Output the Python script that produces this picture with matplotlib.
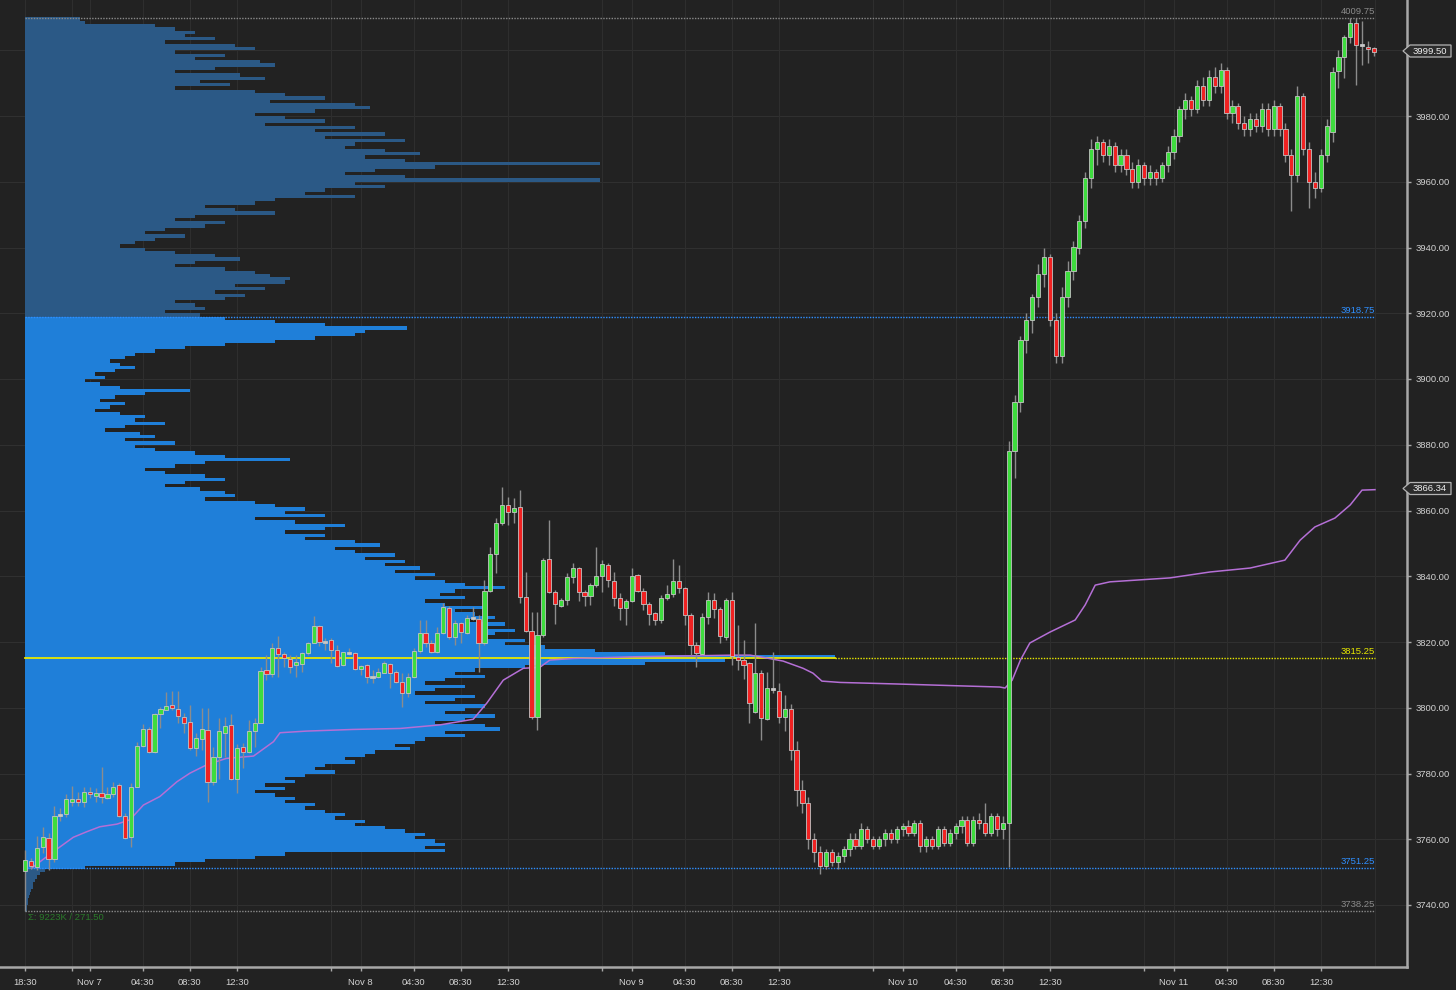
import numpy as np
import matplotlib
matplotlib.use("Agg")
import matplotlib.pyplot as plt
from matplotlib.patches import Rectangle, Polygon

# ---------------- data ----------------
opens = [3750.4,3753.5,3751.7,3757.6,3760.5,3754.0,3767.3,3767.6,3771.4,3772.2,
         3771.4,3774.5,3773.3,3774.2,3772.5,3773.8,3776.4,3767.0,3760.8,3776.0,
         3788.4,3793.5,3786.6,3798.0,3799.4,3800.7,3799.7,3797.3,3795.8,3787.7,
         3790.4,3793.2,3777.5,3785.1,3792.4,3794.7,3778.4,3788.2,3786.5,3793.0,
         3795.5,3811.4,3810.3,3818.3,3816.4,3814.8,3813.0,3813.2,3816.6,3819.8,
         3824.9,3820.1,3820.6,3817.6,3813.1,3816.6,3816.6,3811.9,3813.0,3809.4,
         3809.4,3810.7,3813.3,3811.0,3807.7,3804.4,3809.3,3817.4,3822.8,3819.8,
         3817.1,3822.6,3830.2,3821.6,3825.7,3822.8,3827.4,3826.9,3819.8,3835.6,
         3846.8,3856.1,3861.7,3859.5,3861.0,3833.6,3823.4,3797.3,3822.1,3845.1,
         3835.3,3831.0,3832.7,3839.9,3842.4,3835.1,3834.0,3837.3,3840.1,3843.4,
         3838.6,3833.3,3830.4,3832.6,3840.4,3835.6,3831.5,3828.7,3826.7,3833.3,
         3834.6,3838.6,3836.3,3828.2,3819.1,3816.4,3827.5,3832.8,3830.0,3821.6,
         3832.8,3815.5,3814.5,3813.7,3798.8,3810.7,3796.5,3805.6,3805.2,3797.1,
         3799.5,3787,3775,3771,3760,3756,3752,3756,3753,3755,
         3757,3760,3758,3763,3760,3758,3760,3762,3760,3763,
         3764,3762,3765,3758,3760,3758,3763,3759,3762,3764,
         3766,3759,3766,3765,3762,3767,3763,3765,3878,3893,
         3912,3918,3925,3932,3937,3918,3907,3925,3933,3940,
         3948,3961,3970,3972,3968,3971,3965,3968,3964,3960,
         3965,3961,3963,3961,3965,3969,3974,3982,3985,3982,
         3989,3985,3992,3989,3994,3981,3983,3978,3976,3979,
         3977,3982,3976,3983,3976,3968,3962,3986,3970,3960,
         3958,3968,3975,3993.8,3997.9,4003.9,4008.4,4001.6,4001.1,4000.6]
highs = [3756.7,3754.4,3761.0,3763.8,3761.9,3770.1,3769.5,3773.7,3776.1,3774.5,
         3776.0,3776.0,3775.5,3782.1,3776.0,3777.5,3777.2,3767.9,3777.0,3789.7,
         3795.1,3794.2,3798.3,3800.1,3804.9,3805.2,3805.2,3798.3,3800.8,3792.2,
         3799.8,3799.8,3788.2,3796.8,3797.3,3798.0,3788.9,3789.2,3796.3,3796.8,
         3812.5,3816.0,3819.6,3821.8,3817.1,3816.0,3816.0,3817.1,3820.1,3827.9,
         3825.2,3821.1,3821.1,3819.1,3817.1,3818.1,3817.1,3813.0,3813.2,3811.5,
         3812.0,3814.2,3813.5,3811.5,3810.5,3810.5,3818.1,3826.7,3826.7,3820.6,
         3824.7,3831.8,3831.0,3826.7,3826.2,3828.2,3830.7,3828.2,3838.9,3849.0,
         3857.6,3867.2,3864.2,3863.7,3866.2,3841.4,3829.2,3829.2,3845.5,3857.1,
         3835.8,3833.3,3840.9,3843.9,3842.9,3835.8,3837.9,3848.8,3844.9,3843.9,
         3841.4,3834.8,3833.0,3842.4,3840.7,3836.3,3832.3,3829.2,3834.3,3837.3,
         3845.2,3843.4,3836.8,3828.7,3820.1,3828.7,3835.3,3835.0,3830.7,3833.3,
         3835.3,3825.2,3820.6,3814.0,3825.9,3811.5,3811.0,3817.1,3807.4,3803.9,
         3801,3790,3778,3773,3762,3758,3757,3757,3756,3758,
         3762,3762,3765,3764,3761,3761,3763,3763,3764,3765,
         3766,3766,3766,3761,3761,3764,3764,3763,3765,3767,
         3767,3767,3768,3771,3768,3768,3767,3881,3895,3913,
         3920,3926,3935,3940,3938,3920,3928,3936,3942,3950,
         3963,3973,3974,3973,3973,3972,3970,3970,3966,3967,
         3966,3965,3964,3966,3971,3976,3983,3987,3986,3991,
         3992,3994,3995,3996,3995,3985,3984,3980,3981,3981,
         3984,3984,3985,3984,3978,3970,3989,3987,3972,3963,
         3970,3979,3995,4000.1,4004.6,4009.75,4009.75,4008.8,4002.9,4001.0]
lows = [3738.25,3750.9,3750.7,3755.7,3750.7,3753.0,3765.4,3766.9,3770.0,3770.0,
        3769.8,3772.5,3771.4,3771.1,3772.2,3773.0,3766.9,3760.0,3757.7,3776.0,
        3788.2,3786.3,3786.3,3793.8,3799.3,3799.3,3795.5,3792.2,3787.2,3785.3,
        3787.2,3771.4,3776.5,3778.2,3785.1,3778.0,3774.2,3781.6,3786.1,3788.2,
        3795.3,3808.4,3809.4,3809.4,3812.5,3810.7,3809.4,3811.0,3816.0,3819.6,
        3818.8,3817.6,3813.5,3812.4,3812.7,3816.0,3811.5,3810.0,3807.4,3807.4,
        3808.9,3810.5,3805.9,3807.4,3800.3,3803.2,3808.9,3816.6,3818.6,3816.6,
        3816.6,3822.4,3820.8,3819.1,3819.6,3822.4,3826.7,3811.0,3819.1,3835.3,
        3840.9,3855.6,3855.6,3856.1,3831.8,3823.1,3796.5,3793.2,3821.6,3834.8,
        3825.5,3830.7,3831.3,3837.9,3832.6,3831.0,3831.3,3836.8,3835.3,3836.6,
        3831.0,3826.7,3825.2,3832.3,3835.3,3829.7,3825.2,3825.2,3825.7,3832.8,
        3833.8,3834.8,3825.2,3816.0,3812.3,3816.0,3825.5,3827.2,3819.6,3820.6,
        3813.0,3811.5,3808.7,3795.3,3798.3,3790.2,3796.3,3804.4,3795.3,3793.0,
        3784,3770,3768,3757,3753,3749.5,3751,3752,3751,3753,
        3755,3757,3757,3759,3757,3757,3758,3759,3759,3761,
        3761,3761,3756,3756,3757,3757,3758,3758,3760,3762,
        3758,3758,3763,3761,3761,3761,3760,3751.5,3870,3890,
        3908,3914,3922,3928,3916,3905,3905,3922,3930,3938,
        3946,3958,3965,3966,3965,3963,3963,3962,3958,3958,
        3959,3959,3959,3960,3963,3967,3972,3979,3980,3981,
        3983,3983,3987,3987,3979,3978,3976,3974,3974,3975,
        3975,3974,3974,3974,3966,3951,3960,3968,3952,3955,
        3957,3966,3972,3988.4,3991.5,4002.1,3989.4,3995.5,3996.0,3998.4]
closes = [3753.7,3751.9,3757.4,3760.8,3754.0,3767.0,3767.3,3772.3,3772.2,3771.4,
          3774.5,3773.7,3774.2,3772.8,3773.8,3776.0,3767.0,3760.5,3776.0,3788.4,
          3793.5,3786.5,3798.0,3799.7,3800.5,3799.8,3797.5,3795.3,3787.7,3790.7,
          3793.4,3777.5,3785.1,3792.9,3794.4,3778.4,3787.8,3786.5,3793.0,3795.5,
          3811.1,3810.3,3818.3,3816.3,3815.0,3812.5,3813.8,3816.6,3819.8,3824.9,
          3819.9,3820.1,3817.6,3812.7,3816.9,3816.6,3811.8,3812.8,3809.4,3809.4,
          3811.0,3813.7,3810.7,3807.7,3804.4,3809.3,3817.4,3822.8,3819.8,3817.1,
          3822.6,3830.5,3821.6,3825.7,3823.0,3827.4,3827.4,3819.8,3835.6,3846.8,
          3856.1,3861.7,3859.6,3860.7,3833.8,3823.4,3797.1,3822.1,3844.9,3835.3,
          3831.6,3832.7,3839.9,3842.4,3835.3,3834.0,3837.3,3840.1,3843.7,3838.9,
          3833.3,3830.3,3832.6,3840.1,3835.5,3831.5,3828.5,3826.7,3833.3,3834.6,
          3838.6,3836.3,3828.2,3819.1,3816.6,3827.5,3832.8,3830.0,3821.8,3832.8,
          3815.7,3814.5,3813.0,3801.5,3810.7,3796.8,3805.9,3805.6,3797.1,3799.5,
          3787,3775,3771,3760,3756,3752,3756,3753,3755,3757,
          3760,3758,3763,3760,3758,3760,3762,3760,3763,3764,
          3762,3765,3758,3760,3758,3763,3759,3762,3764,3766,
          3759,3766,3765,3762,3767,3763,3765,3878,3893,3912,
          3918,3925,3932,3937,3918,3907,3925,3933,3940,3948,
          3961,3970,3972,3968,3971,3965,3968,3964,3960,3965,
          3961,3963,3961,3965,3969,3974,3982,3985,3982,3989,
          3985,3992,3989,3994,3981,3983,3978,3976,3979,3977,
          3982,3976,3983,3976,3968,3962,3986,3970,3960,3958,
          3968,3977,3993.5,3997.9,4003.9,4008.4,4001.6,4001.6,4000.4,3999.5]

# VWAP vertices (bar index, price)
vwap_bar = [1.1,4.8,8.2,10.5,12.7,15.6,17.8,20.1,22.9,25.8,28,30.8,34.2,38.8,42.2,43.3,
            47.8,55.7,63.7,70.5,76.1,78.4,81.2,84.6,87.4,89.1,93.1,103.3,120.3,123.1,124.8,
            128.7,132.1,133.8,135.3,138.4,148.6,165.5,166.4,167.6,169,170.6,174,178.3,180,
            181.7,184.2,194.4,201.2,208,213.9,216.5,219,222.4,225,227,229.2]
vwap_val = [3751.2,3756.2,3760.6,3762.3,3763.8,3764.6,3765.9,3770.4,3773.0,3777.5,3780.1,
            3782.6,3784.6,3785.3,3789.7,3792.4,3792.9,3793.4,3793.7,3794.8,3796.5,3801.4,
            3808.4,3812.0,3812.3,3814.5,3815.0,3815.5,3816.0,3816.0,3815.5,3814.2,3812.0,
            3810.5,3808.1,3807.7,3807.2,3806.3,3806.0,3808.4,3814.5,3819.7,3823.0,3826.7,
            3831.3,3837.3,3838.3,3839.5,3841.3,3842.5,3844.9,3851.0,3855.0,3857.7,3861.7,
            3866.2,3866.34]

# volume profile: 1-point price bins (bottom edge, 4009 down to 3738) and relative volume
prof_price = list(range(4009, 3737, -1))
prof_vol = [55,60,130,150,170,160,190,140,210,230,
            150,200,170,235,250,190,150,215,240,175,
            205,150,230,260,300,245,330,345,290,230,
            260,300,240,330,290,360,300,380,330,320,
            360,395,340,380,575,410,350,320,380,575,
            330,360,300,280,330,250,230,180,210,250,
            170,150,200,180,140,120,160,130,110,95,
            120,150,190,215,170,150,200,230,245,265,
            260,210,240,190,220,200,150,170,180,140,
            175,200,250,300,382,340,330,290,250,200,
            160,130,110,100,85,95,110,90,70,80,
            60,75,95,165,120,90,75,100,85,70,
            95,120,110,140,100,80,115,130,100,150,
            110,130,170,200,265,180,150,120,140,180,
            200,160,140,175,200,210,180,230,250,280,
            260,300,230,270,320,300,260,300,280,330,
            355,310,330,370,340,380,360,395,370,410,
            390,420,440,480,430,415,440,400,420,460,
            430,450,470,440,480,460,490,470,460,500,
            480,520,570,640,810,700,620,500,450,430,
            460,420,400,440,410,390,450,430,400,460,
            440,420,470,440,410,460,475,420,440,400,
            390,370,385,350,340,320,330,300,290,310,
            280,260,270,240,260,230,250,270,260,290,
            280,300,320,310,340,330,360,380,400,390,
            410,420,400,420,260,230,180,150,60,20,
            15,12,10,8,8,6,5,4,3,3,
            2,2]

levels = [4009.75, 3918.75, 3815.25, 3751.25, 3738.25]
level_labels = ["4009.75", "3918.75", "3815.25", "3751.25", "3738.25"]
va_low, va_high, poc = 3751.25, 3918.75, 3815.25

tick_pos = [0, 8, 11, 20, 28, 36, 52, 57, 66, 74, 82, 98, 103, 112, 120, 128,
            144, 149, 158, 166, 174, 190, 195, 204, 212, 220]
tick_lab = ["18:30", "", "Nov 7", "04:30", "08:30", "12:30", "", "Nov 8", "04:30", "08:30", "12:30",
            "", "Nov 9", "04:30", "08:30", "12:30", "", "Nov 10", "04:30", "08:30", "12:30",
            "", "Nov 11", "04:30", "08:30", "12:30"]
price_ticks = list(range(3740, 4001, 20))

last_price = 3999.50
last_vwap = 3866.34
summary = "Σ: 9223K / 271.50"

# ---------------- style ----------------
W, H = 1456, 990
BG = "#222222"
FONT = "Liberation Sans"
PX = 5.89                    # pixels per bar
X0 = 25                      # pixel of bar 0
def px2bar(px): return (px - X0) / PX
def py2price(py): return 3980 - (py - 116) / 3.2875

fig = plt.figure(figsize=(W / 100, H / 100), dpi=100, facecolor=BG)
ax = fig.add_axes([0, 1 - 967 / H, 1407 / W, 967 / H], facecolor=BG)
ax.set_xlim(px2bar(0), px2bar(1407))
ax.set_ylim(py2price(967), py2price(0))

# grid
for p in price_ticks:
    ax.axhline(p, color="#303030", lw=0.8, zorder=0)
for t in tick_pos:
    ax.axvline(t, color="#2e2e2e", lw=0.8, zorder=0)
ax.axvline(px2bar(1375), color="#2e2e2e", lw=0.8, zorder=0)

# volume profile
vmax = max(prof_vol)
prof_w = px2bar(835) - px2bar(25)
for p, v in zip(prof_price, prof_vol):
    col = "#1f7fd9" if (p >= np.floor(va_low) and p + 1 <= np.ceil(va_high)) else "#2b5986"
    ax.barh(p, v / vmax * prof_w, height=1.0, left=-0.05, align="edge",
            color=col, lw=0, zorder=1)

# level lines
end_bar = px2bar(1375)
lvl_cols = ["#8a8a8a", "#2f8fff", "#e8e800", "#2f8fff", "#8a8a8a"]
for lv, lab, c in zip(levels, level_labels, lvl_cols):
    if lv == poc:
        poc_end = px2bar(835)
        ax.plot([0, poc_end], [lv, lv], color=c, lw=1.3, zorder=3)
        ax.plot([poc_end, end_bar], [lv, lv], color=c, lw=1.0, ls=(0, (1, 1)), zorder=3)
    else:
        ax.plot([0, end_bar], [lv, lv], color=c, lw=1.0, ls=(0, (1, 1)), zorder=3)
    ax.text(end_bar, lv + 0.6, lab, color=c, fontsize=6.8, family=FONT,
            ha="right", va="bottom", zorder=5)

# vwap
ax.plot(vwap_bar, vwap_val, color="#b56fd6", lw=1.1, zorder=4)

# candles
bw = 4.2 / PX
for i, (o, h, l, c) in enumerate(zip(opens, highs, lows, closes)):
    ax.plot([i, i], [l, h], color="#8c8c8c", lw=1.0, zorder=5, solid_capstyle="butt")
    if abs(c - o) < 0.3:
        fc = "#c8c8c8"
        lo, hi = min(o, c) - 0.3, max(o, c) + 0.3
    else:
        fc = "#3edc3e" if c > o else "#f02222"
        lo, hi = min(o, c), max(o, c)
    ax.add_patch(Rectangle((i - bw / 2, lo), bw, hi - lo, facecolor=fc,
                           edgecolor="#c4c4c4", lw=0.6, zorder=6))

ax.text(px2bar(28), py2price(917), summary, color="#2a7a2a", fontsize=6.8,
        family=FONT, ha="left", va="center", zorder=5)

# axes styling
for s in ["left", "top"]:
    ax.spines[s].set_visible(False)
for s in ["right", "bottom"]:
    ax.spines[s].set_color("#a8a8a8")
    ax.spines[s].set_linewidth(1.8)
ax.yaxis.tick_right()
ax.set_yticks(price_ticks)
ax.set_yticklabels([f"{p:.2f}" if p != 4000 else "" for p in price_ticks])
ax.set_xticks(tick_pos)
ax.set_xticklabels(tick_lab)
ax.tick_params(axis="both", colors="#a8a8a8", labelcolor="#d2d2d2", labelsize=6.8,
               length=3, width=1)
ax.tick_params(axis="x", pad=5)
ax.tick_params(axis="y", pad=3)
for lab in ax.get_xticklabels() + ax.get_yticklabels():
    lab.set_family(FONT)

# price markers on right axis
def marker(py, text):
    pts = [(1403, py), (1410, py - 6), (1451, py - 6), (1451, py + 6), (1410, py + 6)]
    pts = [(x / W, 1 - y / H) for x, y in pts]
    fig.patches.append(Polygon(pts, closed=True, transform=fig.transFigure,
                               facecolor="#2c2c2c", edgecolor="#b4b4b4", lw=0.9, zorder=10))
    fig.text(1430 / W, 1 - py / H, text, color="#f0f0f0", fontsize=6.8, family=FONT,
             ha="center", va="center", zorder=11)

marker(51, f"{last_price:.2f}")
marker(488.5, f"{last_vwap:.2f}")

fig.savefig("out.png", dpi=100, facecolor=BG)
